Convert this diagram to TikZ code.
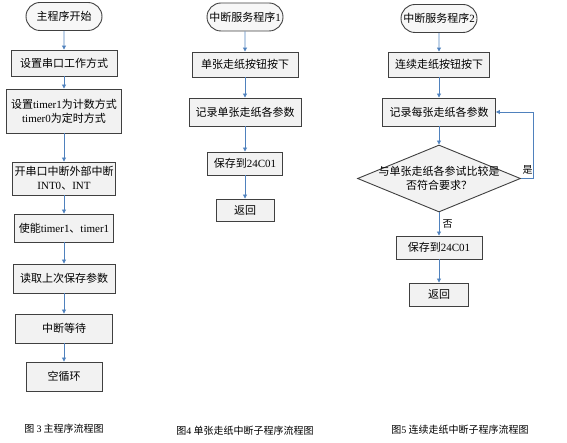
\documentclass[tikz,border=0pt]{standalone}
\usepackage{fontspec}
\setmainfont{Liberation Serif}
\newfontfamily\cjk{Noto Sans CJK SC}
\usepackage{tikz}
\usetikzlibrary{arrows.meta,positioning,shapes.geometric,shapes.misc}
\definecolor{flowblue}{HTML}{4F81BD}
\definecolor{boxgray}{HTML}{F2F2F2}
\newcommand{\lat}[1]{{\rmfamily #1}}

\begin{document}
\begin{tikzpicture}[x=1pt, y=-1pt,
    proc/.style={draw=black!75, line width=0.9pt, fill=boxgray, inner sep=0pt, align=center, font=\cjk\fontsize{11}{14}\selectfont},
    term/.style={draw=black!75, line width=0.9pt, fill=boxgray!60, rounded rectangle, inner sep=0pt, minimum width=76pt, minimum height=28pt, font=\cjk\fontsize{11}{14}\selectfont},
    decision/.style={draw=black!75, line width=0.9pt, fill=boxgray, diamond, inner sep=0pt, minimum width=163pt, minimum height=67pt},
    caption/.style={font=\cjk\fontsize{10}{12}\selectfont},
    arrow/.style={-{Triangle[length=4pt, width=4pt]}, line width=0.8pt, color=flowblue}
]
\useasboundingbox (0,0) rectangle (567,443);

% main program
\node[term] (t1) at (64,16.5) {主程序开始};
\node[proc, minimum width=106pt, minimum height=26pt] (m1) at (64,63) {设置串口工作方式};
\node[proc, minimum width=115pt, minimum height=44pt] (m2) at (64,111) {设置\lat{timer1}为计数方式\\\lat{timer0}为定时方式};
\node[proc, minimum width=103pt, minimum height=33pt] (m3) at (64,178.5) {开串口中断外部中断\\\lat{INT0}、\lat{INT}};
\node[proc, minimum width=99pt, minimum height=28pt] (m4) at (64,228) {使能\lat{timer1}、\lat{timer1}};
\node[proc, minimum width=102pt, minimum height=29pt] (m5) at (64,278.5) {读取上次保存参数};
\node[proc, minimum width=97pt, minimum height=29pt] (m6) at (64,328.5) {中断等待};
\node[proc, minimum width=76pt, minimum height=29pt] (m7) at (64,376.5) {空循环};
\node[caption] (cap1) at (64,428.5) {图 \lat{3} 主程序流程图};

\foreach \a/\b in {t1/m1, m1/m2, m2/m3, m3/m4, m4/m5, m5/m6, m6/m7}
    \draw[arrow] (\a) -- (\b);

% interrupt service 1
\node[term] (t2) at (245,17) {中断服务程序\lat{1}};
\node[proc, minimum width=106pt, minimum height=25pt] (s1) at (245,64.5) {单张走纸按钮按下};
\node[proc, minimum width=112pt, minimum height=28pt] (s2) at (245,112) {记录单张走纸各参数};
\node[proc, minimum width=75pt, minimum height=23pt] (s3) at (245,163.5) {保存到\lat{24C01}};
\node[proc, minimum width=58pt, minimum height=22pt] (s4) at (245,210) {返回};
\node[caption] (cap2) at (245,431) {图\lat{4} 单张走纸中断子程序流程图};

\foreach \a/\b in {t2/s1, s1/s2, s2/s3, s3/s4}
    \draw[arrow] (\a) -- (\b);

% interrupt service 2
\node[term] (t3) at (439,18.5) {中断服务程序\lat{2}};
\node[proc, minimum width=101pt, minimum height=25pt] (c1) at (439,64.5) {连续走纸按钮按下};
\node[proc, minimum width=113pt, minimum height=28pt] (c2) at (439,112) {记录每张走纸各参数};
\node[decision, label={[align=center, font=\cjk\fontsize{11}{14}\selectfont]center:与单张走纸各参试比较是\\否符合要求？}] (d) at (439,178.5) {};
\node[proc, minimum width=86pt, minimum height=23pt] (c3) at (439,247.5) {保存到\lat{24C01}};
\node[proc, minimum width=59pt, minimum height=23pt] (c4) at (439,294.5) {返回};
\node[caption] (cap3) at (460,429.5) {图\lat{5} 连续走纸中断子程序流程图};

\draw[arrow] (t3) -- (c1);
\draw[arrow] (c1) -- (c2);
\draw[arrow] (c2) -- (d);
\draw[arrow] (d.east) -- node[above, pos=0.55, font=\cjk\fontsize{10}{12}\selectfont, text=black] {是} ++(12,0) |- (c2.east);
\draw[arrow] (d) -- node[right, font=\cjk\fontsize{10}{12}\selectfont, text=black] {否} (c3);
\draw[arrow] (c3) -- (c4);

\end{tikzpicture}
\end{document}
